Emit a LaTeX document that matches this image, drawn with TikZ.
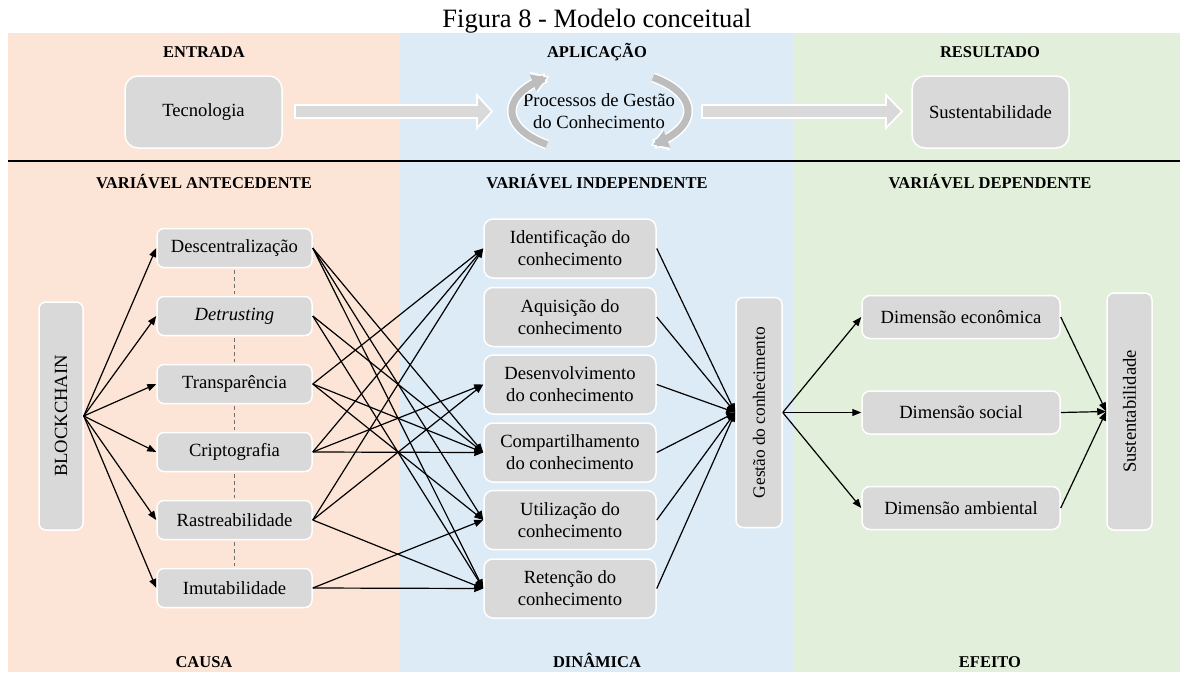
\documentclass[tikz,border=0pt]{standalone}
\usepackage{fontspec}
\setmainfont{Liberation Serif}
\usetikzlibrary{arrows.meta}
\definecolor{pinkbg}{HTML}{FCE4D6}
\definecolor{bluebg}{HTML}{DDEBF7}
\definecolor{greenbg}{HTML}{E2EFDA}
\definecolor{boxgray}{HTML}{D9D9D9}
\definecolor{arcgray}{HTML}{BDBDBD}
\definecolor{dashgray}{HTML}{6E6E6E}
\tikzset{
  box/.style={draw=white, line width=1.5pt, fill=boxgray, rounded corners=7pt,
    font=\fontsize{18.6}{22}\selectfont, align=center, inner sep=0pt},
  attr/.style={box, minimum width=155pt, minimum height=39pt},
  proc/.style={box, minimum width=172pt, minimum height=59pt, rounded corners=9pt},
  dim/.style={box, minimum width=198pt, minimum height=43pt, rounded corners=8pt},
  vbox/.style={box, rotate=90},
  topbox/.style={box, minimum width=157pt, minimum height=72pt, rounded corners=13pt},
  head/.style={font=\fontsize{16.5}{20}\selectfont\bfseries, anchor=base},
  link/.style={line width=1.2pt, -{Triangle[length=9pt,width=7pt]}},
  dashlink/.style={draw=dashgray, line width=1.6pt, dash pattern=on 4pt off 3pt},
  blockarrow/.style={fill=boxgray, draw=white, line width=1.8pt},
  cyclewhite/.style={draw=white, line width=10pt, -{Triangle[length=17pt,width=21pt]}},
  cyclegray/.style={draw=arcgray, line width=7pt, -{Triangle[length=15pt,width=17pt]}},
}
\begin{document}
\begin{tikzpicture}[x=1pt,y=-1pt]
\useasboundingbox (0,0) rectangle (1180,672);

% column backgrounds and separator
\fill[pinkbg] (8,33) rectangle (400,672);
\fill[bluebg] (400,33) rectangle (793,672);
\fill[greenbg] (793,33) rectangle (1180,672);
\draw[line width=1.5pt] (8,161) -- (1180,161);

% title
\node[font=\fontsize{26.5}{30}\selectfont, anchor=base] (title) at (597,27) {Figura 8 - Modelo conceitual};

% column headings
\node[head] (h1) at (204,57) {ENTRADA};
\node[head] (h2) at (597,57) {APLICAÇÃO};
\node[head] (h3) at (990,57) {RESULTADO};
\node[head] (h4) at (204,188) {VARIÁVEL ANTECEDENTE};
\node[head] (h5) at (597,188) {VARIÁVEL INDEPENDENTE};
\node[head] (h6) at (990,188) {VARIÁVEL DEPENDENTE};
\node[head] (h7) at (204,667) {CAUSA};
\node[head] (h8) at (597,667) {DINÂMICA};
\node[head] (h9) at (990,667) {EFEITO};

% upper flow
\node[topbox] (tec) at (203.5,112) {Tecnologia};
\node[topbox] (sus) at (990.5,112) {Sustentabilidade};
\node[font=\fontsize{18.6}{22}\selectfont, align=center] (pg) at (599,111) {Processos de Gestão\\do Conhecimento};

\draw[blockarrow] (295,105) -- (477,105) -- (477,95) -- (492,111.5) -- (477,128) -- (477,118) -- (295,118) -- cycle;
\draw[blockarrow] (702,105) -- (886,105) -- (886,95) -- (902,111.5) -- (886,128) -- (886,118) -- (702,118) -- cycle;

% circular arrows around the process label
\draw[cyclewhite] plot[domain=127:235, samples=40] ({600+88*cos(\x)},{111+42*sin(\x)});
\draw[cyclegray]  plot[domain=127:233, samples=40] ({600+88*cos(\x)},{111+42*sin(\x)});
\draw[cyclewhite] plot[domain=-53:55, samples=40] ({600+88*cos(\x)},{111+42*sin(\x)});
\draw[cyclegray]  plot[domain=-53:53, samples=40] ({600+88*cos(\x)},{111+42*sin(\x)});

% antecedent variable
\node[vbox, minimum width=228pt, minimum height=44pt] (b) at (61,416) {BLOCKCHAIN};
\node[attr] (a1) at (234.5,248) {Descentralização};
\node[attr] (a2) at (234.5,316) {\itshape Detrusting};
\node[attr] (a3) at (234.5,384) {Transparência};
\node[attr] (a4) at (234.5,452) {Criptografia};
\node[attr] (a5) at (234.5,520) {Rastreabilidade};
\node[attr] (a6) at (234.5,588) {Imutabilidade};

\foreach \i/\j in {a1/a2,a2/a3,a3/a4,a4/a5,a5/a6}
  \draw[dashlink, shorten <=2pt, shorten >=2pt] (\i.south) -- (\j.north);
\foreach \i in {a1,a2,a3,a4,a5,a6}
  \draw[link] (b.south) -- (\i.west);

% independent variable
\node[proc] (k1) at (570,248.5) {Identificação do\\conhecimento};
\node[proc] (k2) at (570,317) {Aquisição do\\conhecimento};
\node[proc] (k3) at (570,384.5) {Desenvolvimento\\do conhecimento};
\node[proc] (k4) at (570,452.5) {Compartilhamento\\do conhecimento};
\node[proc] (k5) at (570,520) {Utilização do\\conhecimento};
\node[proc] (k6) at (570,588.5) {Retenção do\\conhecimento};

\foreach \i/\j in {a1/k4,a1/k5,a1/k6,
                   a2/k4,a2/k6,
                   a3/k1,a3/k4,a3/k5,
                   a4/k1,a4/k3,a4/k4,
                   a5/k1,a5/k3,a5/k6,
                   a6/k5,a6/k6}
  \draw[link] (\i.east) -- (\j.west);

\node[vbox, minimum width=230pt, minimum height=46pt, font=\fontsize{17.3}{20}\selectfont] (g) at (759,412.5) {Gestão do conhecimento};
\foreach \i in {k1,k2,k3,k4,k5,k6}
  \draw[link] (\i.east) -- (g.north);

% dependent variable
\node[dim] (d1) at (961,317) {Dimensão econômica};
\node[dim] (d2) at (961,412.5) {Dimensão social};
\node[dim] (d3) at (961,508) {Dimensão ambiental};
\node[vbox, minimum width=237pt, minimum height=45pt] (s) at (1129.5,411.5) {Sustentabilidade};

\foreach \i in {d1,d2,d3} {
  \draw[link] (g.south) -- (\i.west);
  \draw[link] (\i.east) -- (s.north);
}
\end{tikzpicture}
\end{document}
